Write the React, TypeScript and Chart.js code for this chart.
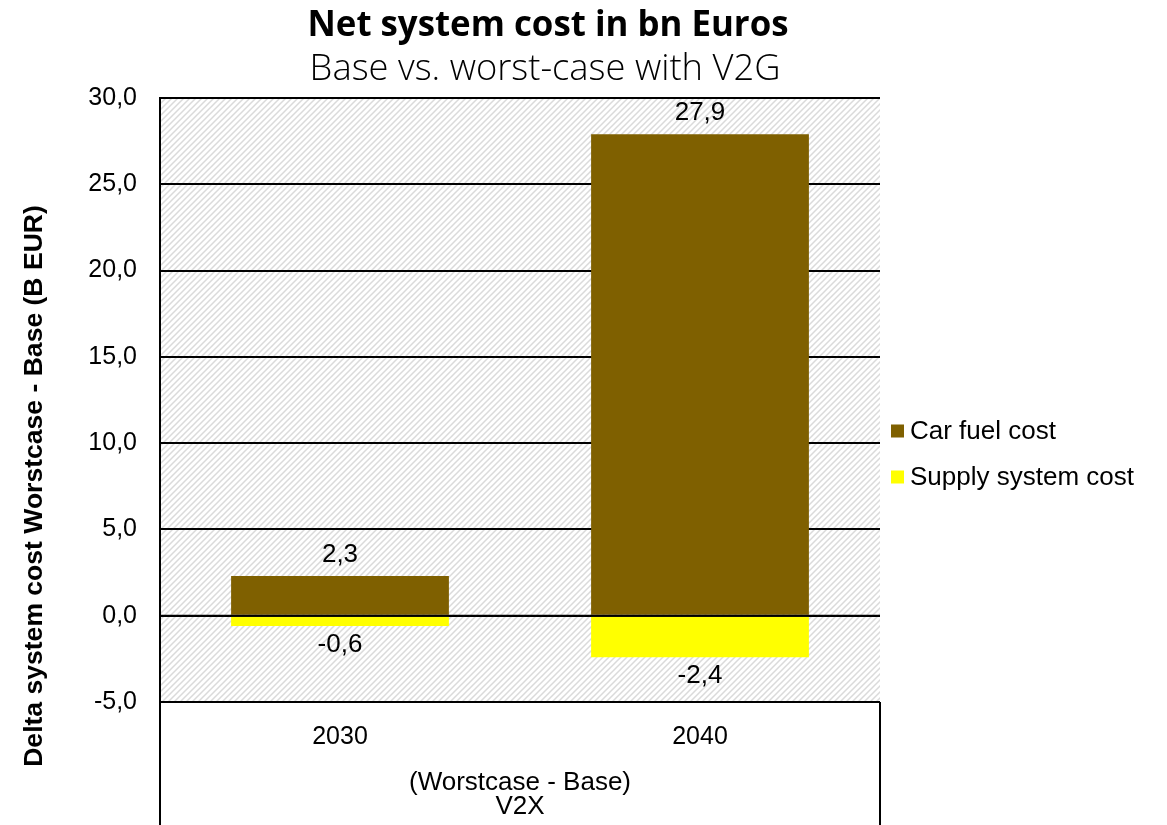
import React, { useEffect, useRef } from 'react';
import { Chart, registerables } from 'chart.js';

Chart.register(...registerables);

const categories = ['2030', '2040'];
const carFuelCost = [2.3, 27.9];
const supplySystemCost = [-0.6, -2.4];
const seriesNames = ['Car fuel cost', 'Supply system cost'];
const seriesColors = ['#7F6000', '#FFFF00'];
const yMin = -5;
const yMax = 30;
const yStep = 5;
const groupLabel = ['(Worstcase - Base)', 'V2X'];
const titleText = 'Net system cost in bn Euros';
const subtitleText = 'Base vs. worst-case with V2G';
const yAxisTitle = 'Delta system cost Worstcase - Base (B EUR)';

const W = 1167;
const H = 825;
const ARIAL = '"Liberation Sans", Arial, sans-serif';
const TITLE_FONT = '"Open Sans", "Noto Sans", sans-serif';
const FS = 25;
const FS_BIG = 26;

const fmt = (v: number) => v.toFixed(1).replace('.', ',');

function makeHatch(ctx: CanvasRenderingContext2D) {
  const s = 6;
  const p = document.createElement('canvas');
  p.width = s;
  p.height = s;
  const c = p.getContext('2d')!;
  c.fillStyle = '#ffffff';
  c.fillRect(0, 0, s, s);
  c.strokeStyle = '#dadada';
  c.lineWidth = 1.5;
  c.beginPath();
  c.moveTo(0, s);
  c.lineTo(s, 0);
  c.moveTo(-s / 2, s / 2);
  c.lineTo(s / 2, -s / 2);
  c.moveTo(s / 2, s + s / 2);
  c.lineTo(s + s / 2, s / 2);
  c.stroke();
  return ctx.createPattern(p, 'repeat');
}

function fitFont(ctx: CanvasRenderingContext2D, text: string, weight: string, family: string, target: number) {
  ctx.font = `${weight} 30px ${family}`;
  const w = ctx.measureText(text).width;
  const size = (30 * target) / w;
  return `${weight} ${size.toFixed(2)}px ${family}`;
}

const decorPlugin = {
  id: 'decor',
  beforeDraw(chart: any) {
    const { ctx, chartArea } = chart;
    ctx.save();
    ctx.fillStyle = '#ffffff';
    ctx.fillRect(0, 0, chart.width, chart.height);
    const pat = makeHatch(ctx);
    if (pat) {
      ctx.fillStyle = pat;
      ctx.fillRect(chartArea.left, chartArea.top, chartArea.right - chartArea.left, chartArea.bottom - chartArea.top);
    }
    ctx.restore();
  },
  afterDatasetsDraw(chart: any) {
    const { ctx, chartArea } = chart;
    const y = chart.scales.y;
    ctx.save();
    const y0 = y.getPixelForValue(0);
    ctx.strokeStyle = '#000';
    ctx.lineWidth = 2;
    ctx.beginPath();
    ctx.moveTo(chartArea.left, y0);
    ctx.lineTo(chartArea.right, y0);
    ctx.stroke();

    ctx.beginPath();
    ctx.moveTo(chartArea.left, chartArea.bottom);
    ctx.lineTo(chartArea.right, chartArea.bottom);
    ctx.moveTo(chartArea.left, chartArea.bottom);
    ctx.lineTo(chartArea.left, chart.height);
    ctx.moveTo(chartArea.right, chartArea.bottom);
    ctx.lineTo(chartArea.right, chart.height);
    ctx.stroke();

    ctx.fillStyle = '#000';
    ctx.font = `${FS_BIG}px ${ARIAL}`;
    ctx.textAlign = 'center';
    ctx.textBaseline = 'middle';
    chart.data.datasets.forEach((ds: any, di: number) => {
      const meta = chart.getDatasetMeta(di);
      meta.data.forEach((el: any, i: number) => {
        const v = ds.data[i];
        const ly = v >= 0 ? el.y - 21 : el.y + 19;
        ctx.fillText(fmt(v), el.x, ly);
      });
    });

    const lx = chartArea.right + 11;
    const ly = [431, 477];
    seriesNames.forEach((name, i) => {
      ctx.fillStyle = seriesColors[i];
      ctx.fillRect(lx, ly[i] - 6.5, 13, 13);
      ctx.fillStyle = '#000';
      ctx.textAlign = 'left';
      ctx.textBaseline = 'middle';
      ctx.font = `${FS_BIG}px ${ARIAL}`;
      ctx.fillText(name, lx + 19, ly[i] + 1);
    });

    ctx.textAlign = 'center';
    ctx.textBaseline = 'alphabetic';
    ctx.fillStyle = '#000';
    ctx.font = fitFont(ctx, titleText, 'bold', TITLE_FONT, 481);
    ctx.fillText(titleText, 548, 36);
    ctx.font = fitFont(ctx, subtitleText, '300', TITLE_FONT, 471);
    ctx.fillText(subtitleText, 545, 80);

    ctx.save();
    ctx.translate(35, 486);
    ctx.rotate(-Math.PI / 2);
    ctx.font = fitFont(ctx, yAxisTitle, 'bold', ARIAL, 562);
    ctx.textBaseline = 'middle';
    ctx.fillText(yAxisTitle, 0, 0);
    ctx.restore();

    ctx.restore();
  },
};

export default function App() {
  const ref = useRef<HTMLCanvasElement | null>(null);
  useEffect(() => {
    if (!ref.current) return;
    const chart = new Chart(ref.current, {
      type: 'bar',
      data: {
        labels: categories,
        datasets: [
          {
            label: seriesNames[0],
            data: carFuelCost,
            backgroundColor: seriesColors[0],
            borderWidth: 0,
            barPercentage: 0.605,
            categoryPercentage: 1,
          },
          {
            label: seriesNames[1],
            data: supplySystemCost,
            backgroundColor: seriesColors[1],
            borderWidth: 0,
            barPercentage: 0.605,
            categoryPercentage: 1,
          },
        ],
      },
      options: {
        responsive: false,
        animation: false,
        maintainAspectRatio: false,
        devicePixelRatio: 1,
        layout: { padding: { top: 98, right: W - 880, bottom: 0, left: 0 } },
        plugins: {
          legend: { display: false },
          title: { display: false },
          tooltip: { enabled: false },
        },
        scales: {
          x: {
            stacked: true,
            grid: { display: false, drawTicks: false },
            border: { display: false },
            ticks: {
              color: '#000',
              font: { family: ARIAL, size: FS, lineHeight: 1.2 },
              padding: 20,
            },
            title: {
              display: true,
              text: groupLabel,
              color: '#000',
              font: { family: ARIAL, size: FS_BIG, lineHeight: 24 / FS_BIG },
              padding: { top: 0, bottom: 6 },
            },
            afterFit(scale: any) {
              scale.height = 123;
            },
          },
          y: {
            stacked: true,
            min: yMin,
            max: yMax,
            grid: { color: '#000', lineWidth: 2, drawTicks: false },
            border: { display: true, color: '#000', width: 2 },
            ticks: {
              stepSize: yStep,
              color: '#000',
              font: { family: ARIAL, size: FS },
              padding: 23,
              callback: (v: any) => fmt(Number(v)),
            },
            afterFit(scale: any) {
              scale.width = 160;
            },
          },
        },
      },
      plugins: [decorPlugin],
    });
    return () => chart.destroy();
  }, []);
  return (
    <div style={{ position: 'absolute', left: 0, top: 0, width: W, height: H }}>
      <canvas ref={ref} width={W} height={H} style={{ display: 'block', width: W, height: H }} />
    </div>
  );
}
